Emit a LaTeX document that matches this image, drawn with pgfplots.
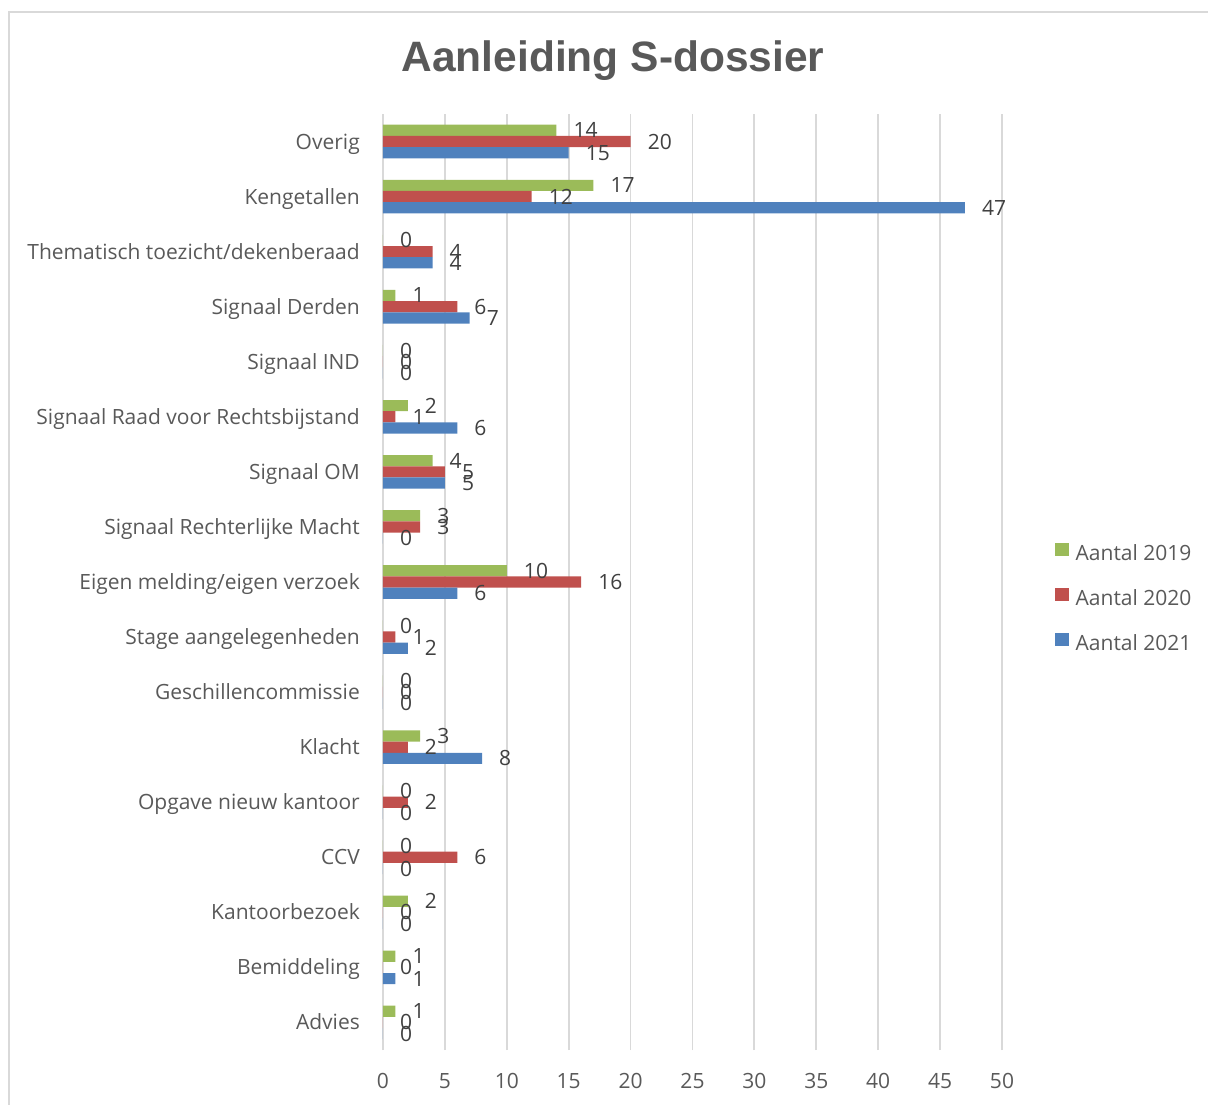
\documentclass[border=0pt]{standalone}
\usepackage{pgfplots}
\pgfplotsset{compat=1.18}
\usepackage{fontspec}
\setmainfont{Open Sans}
\newfontfamily\titlefont{Liberation Sans}
\definecolor{g19}{HTML}{9BBB59}
\definecolor{r20}{HTML}{C0504D}
\definecolor{b21}{HTML}{4F81BD}
\definecolor{txt}{HTML}{595959}
\definecolor{lbl}{HTML}{404040}
\definecolor{gridc}{HTML}{D9D9D9}
\begin{document}
\begin{tikzpicture}
\path[use as bounding box] (-383pt,-54pt) rectangle (825pt,1050pt);
\draw[gridc, line width=2pt] (-373.5pt,-80pt) |- (840pt,1038pt);
\node[anchor=base, text=txt, font=\titlefont\bfseries\fontsize{42.5}{50}\selectfont] at (230pt,978pt) {Aanleiding S-dossier};
\begin{axis}[
  at={(0pt,0pt)}, anchor=south west, scale only axis,
  width=619pt, height=936pt,
  xbar, bar width=11.2pt,
  xmin=0, xmax=50, ymin=-0.5, ymax=16.5,
  xtick={0,5,...,50},
  ytick={0,...,16},
  yticklabels={Advies, Bemiddeling, Kantoorbezoek, CCV, Opgave nieuw kantoor, Klacht, Geschillencommissie, Stage aangelegenheden, Eigen melding/eigen verzoek, Signaal Rechterlijke Macht, Signaal OM, Signaal Raad voor Rechtsbijstand, Signaal IND, Signaal Derden, Thematisch toezicht/dekenberaad, Kengetallen, Overig},
  axis line style={draw=none},
  xmajorgrids, grid style={gridc, line width=1.8pt},
  major tick length=0pt,
  tick label style={text=txt, font=\fontsize{21}{25}\selectfont},
  yticklabel style={anchor=base east, inner sep=0pt, xshift=-23pt, yshift=-7.5pt},
  xticklabel style={anchor=base, inner sep=0pt, yshift=-38pt},
  /pgf/number format/assume math mode=true,
  point meta=x,
  nodes near coords,
  every node near coord/.append style={anchor=west, inner sep=0pt, xshift=17pt, text=lbl, font=\fontsize{21}{25}\selectfont},
  legend style={at={(1.0856,0.542)}, anchor=north west, draw=none, fill=none, inner sep=0pt, row sep=22.5pt, font=\fontsize{21}{25}\selectfont, text=txt, nodes={inner sep=0pt, text height=15pt, text depth=5pt}},
  legend cell align=left,
  legend image code/.code={\fill[#1] (0pt,-1pt) rectangle (13.5pt,12.5pt); \path (20.5pt,0pt);},
]
\addplot[fill=g19, draw=none, bar shift=11.2pt] coordinates {(1,0) (1,1) (2,2) (0,3) (0,4) (3,5) (0,6) (0,7) (10,8) (3,9) (4,10) (2,11) (0,12) (1,13) (0,14) (17,15) (14,16)};
\addlegendentry{Aantal 2019}
\addplot[fill=r20, draw=none, bar shift=0pt] coordinates {(0,0) (0,1) (0,2) (6,3) (2,4) (2,5) (0,6) (1,7) (16,8) (3,9) (5,10) (1,11) (0,12) (6,13) (4,14) (12,15) (20,16)};
\addlegendentry{Aantal 2020}
\addplot[fill=b21, draw=none, bar shift=-11.2pt] coordinates {(0,0) (1,1) (0,2) (0,3) (0,4) (8,5) (0,6) (2,7) (6,8) (0,9) (5,10) (6,11) (0,12) (7,13) (4,14) (47,15) (15,16)};
\addlegendentry{Aantal 2021}
\end{axis}
\end{tikzpicture}
\end{document}
